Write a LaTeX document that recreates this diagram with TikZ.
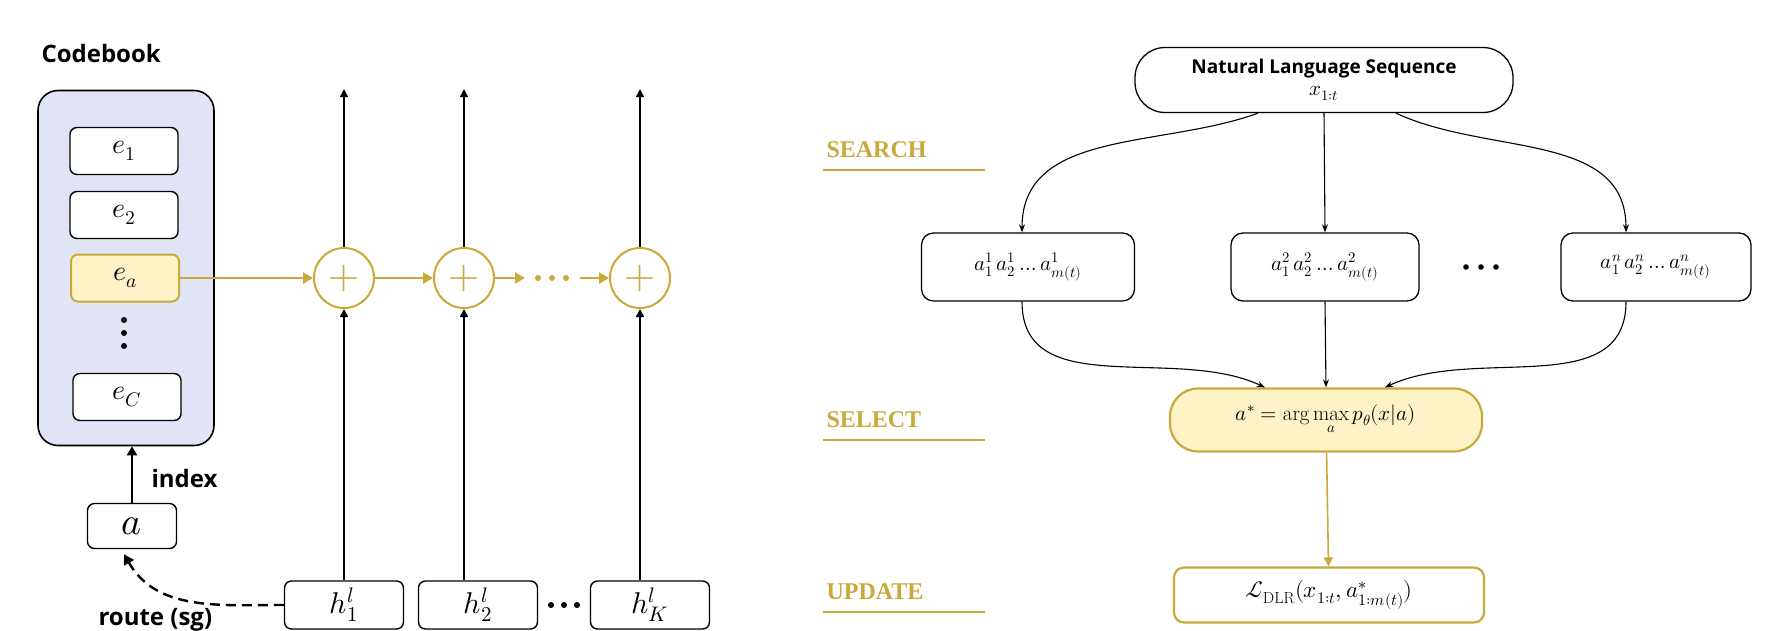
\documentclass[tikz,border=0pt]{standalone}
\usepackage{fontspec}
\usepackage{amsmath}
\usepackage{unicode-math}
\setmathfont{Latin Modern Math}
\newfontfamily\labelsans{Open Sans}
\newfontfamily\stepserif{Liberation Serif}
\usetikzlibrary{arrows.meta, positioning, calc}
\definecolor{vqgold}{RGB}{201, 169, 58}
\definecolor{vqfill}{RGB}{253, 243, 198}
\definecolor{cbfill}{RGB}{225, 228, 245}
\tikzset{
  code/.style={draw, line width=1.4pt, rounded corners=7pt, fill=white, minimum width=108pt, minimum height=47pt, font=\fontsize{28}{30}\selectfont},
  hidden/.style={draw, line width=1.4pt, rounded corners=7pt, fill=white, minimum width=119pt, minimum height=48pt, font=\fontsize{30}{32}\selectfont},
  addop/.style={circle, draw=vqgold, line width=2pt, minimum size=60pt, inner sep=0pt, font=\fontsize{40}{40}\selectfont\color{vqgold}},
  seq/.style={draw, line width=1.3pt, rounded corners=12pt, minimum height=68pt, font=\fontsize{21}{24}\selectfont},
  phase/.style={font=\stepserif\bfseries\fontsize{24}{26}\selectfont, text=vqgold},
  bold/.style={font=\labelsans\bfseries\fontsize{24}{26}\selectfont},
  goldarr/.style={draw=vqgold, line width=2.2pt, -{Triangle[length=10pt, width=11pt]}},
  flowarr/.style={line width=1.1pt, -{Stealth[length=8pt]}},
}
\begin{document}
\begin{tikzpicture}[x=1pt, y=-1pt]
  \useasboundingbox (0,0) rectangle (1780,630);
  % codebook
  \node[draw, line width=1.6pt, rounded corners=20pt, fill=cbfill, minimum width=176pt, minimum height=355pt] (book) at (126,268) {};
  \node[bold, anchor=base west] (booklbl) at (38,62) {Codebook};
  \node[code] (e1) at (124,151) {$e_1$};
  \node[code] (e2) at (124,215) {$e_2$};
  \node[code, draw=vqgold, fill=vqfill, line width=2pt] (ea) at (125,278) {$e_a$};
  \foreach \yy in {320,333,346} \fill (124,\yy) circle (3pt);
  \node[code] (eC) at (127,397) {$e_C$};
  % index
  \node[draw, line width=1.4pt, rounded corners=7pt, minimum width=89pt, minimum height=45pt, font=\fontsize{38}{40}\selectfont] (idx) at (132,526) {$a$};
  \draw[line width=2.2pt, -{Triangle[length=9pt, width=10pt]}] (idx.north) -- (idx.north |- book.south);
  \node[bold, anchor=west] (idxlbl) at (148,478) {index};
  % residual stream
  \node[addop] (p1) at (344,278) {$+$};
  \node[addop] (p2) at (464,278) {$+$};
  \node[addop] (p3) at (640,278) {$+$};
  \node[hidden] (h1) at (344,605) {$h^l_1$};
  \node[hidden] (h2) at (478,605) {$h^l_2$};
  \node[hidden] (hK) at (650,605) {$h^l_K$};
  \foreach \xx in {551,564,577} \fill (\xx,605) circle (3pt);
  \coordinate (g1) at (525,278);
  \coordinate (g2) at (580,278);
  \foreach \xx in {538,552,566} \fill[vqgold] (\xx,278) circle (3pt);
  \draw[goldarr] (ea) -- (p1);
  \draw[goldarr] (p1) -- (p2);
  \draw[goldarr] (p2) -- (g1);
  \draw[goldarr] (g2) -- (p3);
  \foreach \p/\h in {p1/h1, p2/h2, p3/hK} {
    \draw[line width=1.6pt, -{Triangle[length=8pt, width=8pt]}] (\p.north) -- ++(0,-158);
    \draw[line width=1.6pt, -{Triangle[length=8pt, width=8pt]}] (\p.south |- \h.north) -- (\p.south);
  }
  \draw[line width=2.4pt, dash pattern=on 10pt off 6pt, -{Triangle[length=10pt, width=11pt]}] (h1.west) to[out=180, in=-60] ($(idx.south)+(-8,5)$);
  \node[bold, anchor=base west] (routelbl) at (95,625) {route (sg)};
  % right: search / select / update
  \node[seq, rounded corners=30pt, minimum width=378pt, minimum height=65pt, align=center] (nls) at (1324,80)
    {{\labelsans\bfseries\fontsize{19}{22}\selectfont Natural Language Sequence}\\[-2pt] $x_{1:t}$};
  \node[seq, minimum width=213pt] (s1) at (1028,267) {$a^1_1\,a^1_2\ldots a^1_{m(t)}$};
  \node[seq, minimum width=188pt] (s2) at (1325,267) {$a^2_1\,a^2_2\ldots a^2_{m(t)}$};
  \node[seq, minimum width=190pt] (s3) at (1656,267) {$a^n_1\,a^n_2\ldots a^n_{m(t)}$};
  \foreach \xx in {1466,1481,1496} \fill (\xx,267) circle (2.8pt);
  \node[draw=vqgold, fill=vqfill, line width=2.2pt, rounded corners=28pt, minimum width=312pt, minimum height=63pt, font=\fontsize{21}{24}\selectfont] (sel) at (1326,420)
    {$a^* = \arg\max\limits_{a} p_\theta(x|a)$};
  \node[draw=vqgold, line width=2.2pt, rounded corners=10pt, minimum width=310pt, minimum height=55pt, font=\fontsize{23}{26}\selectfont] (upd) at (1329,595)
    {$\mathcal{L}_{\mathrm{DLR}}(x_{1:t}, a^*_{1:m(t)})$};
  \draw[flowarr] ([xshift=-66pt]nls.south) to[out=200, in=90] ([xshift=-6pt]s1.north);
  \draw[flowarr] (nls.south) -- (s2.north);
  \draw[flowarr] ([xshift=72pt]nls.south) to[out=-25, in=90] ([xshift=-30pt]s3.north);
  \draw[flowarr] ([xshift=-6pt]s1.south) to[out=-90, in=155] ([xshift=-61pt]sel.north);
  \draw[flowarr] (s2.south) -- (sel.north);
  \draw[flowarr] ([xshift=-30pt]s3.south) to[out=-90, in=25] ([xshift=59pt]sel.north);
  \draw[draw=vqgold, line width=1.6pt, -{Triangle[length=9pt, width=9pt]}] (sel) -- (upd);
  \foreach \lbl/\y in {SEARCH/150, SELECT/420, UPDATE/592} {
    \node[phase, anchor=west] (\lbl) at (823,\y) {\lbl};
    \draw[vqgold, line width=1.3pt] (823,\y+20) -- (985,\y+20);
  }
\end{tikzpicture}
\end{document}
